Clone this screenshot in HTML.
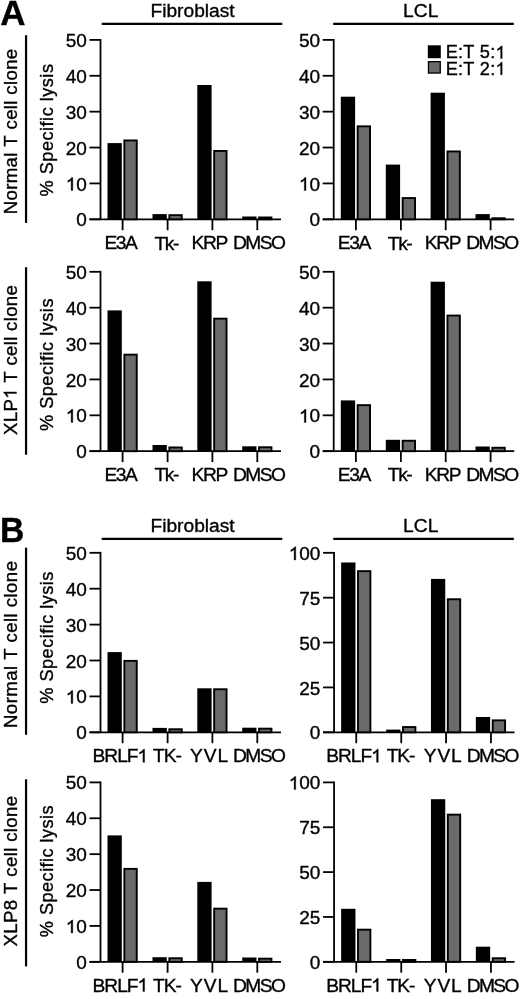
<!DOCTYPE html>
<html><head><meta charset="utf-8"><style>
html,body{margin:0;padding:0;background:#fff;}
svg{display:block;filter:grayscale(1);}
text{font-family:"Liberation Sans",sans-serif;font-kerning:none;fill:#000;stroke:#000;stroke-width:0.35px;}
line{stroke:#000;}
path.one{fill:#000;stroke:#000;stroke-width:37.7px;}
</style></head><body>
<svg width="520" height="999" viewBox="0 0 520 999">
<line x1="100.50" y1="39.00" x2="100.50" y2="219.30" stroke-width="1.8"/>
<line x1="89.50" y1="219.30" x2="100.50" y2="219.30" stroke-width="1.8"/>
<text x="76.28" y="226.39" style="font-size:19.0px;">0</text>
<line x1="89.50" y1="183.42" x2="100.50" y2="183.42" stroke-width="1.8"/>
<text x="65.71" y="190.51" style="font-size:19.0px;"> 0</text><path class="one" transform="translate(65.71,190.51) scale(0.00928,-0.00928)" d="M763 0L583 0L583 1100Q520 1040 420 982Q320 925 223 893L223 1067Q370 1125 480 1222Q590 1320 640 1409L763 1409Z"/>
<line x1="89.50" y1="147.54" x2="100.50" y2="147.54" stroke-width="1.8"/>
<text x="65.71" y="154.63" style="font-size:19.0px;">20</text>
<line x1="89.50" y1="111.66" x2="100.50" y2="111.66" stroke-width="1.8"/>
<text x="65.71" y="118.75" style="font-size:19.0px;">30</text>
<line x1="89.50" y1="75.78" x2="100.50" y2="75.78" stroke-width="1.8"/>
<text x="65.71" y="82.87" style="font-size:19.0px;">40</text>
<line x1="89.50" y1="39.90" x2="100.50" y2="39.90" stroke-width="1.8"/>
<text x="65.71" y="46.99" style="font-size:19.0px;">50</text>
<line x1="89.50" y1="219.30" x2="281.00" y2="219.30" stroke-width="1.8"/>
<line x1="122.60" y1="219.30" x2="122.60" y2="230.20" stroke-width="1.8"/>
<rect x="107.50" y="143.10" width="14.30" height="76.20" fill="#000"/>
<rect x="124.35" y="140.45" width="12.40" height="78.85" fill="#6a6a6a" stroke="#000" stroke-width="1.9"/>
<line x1="167.60" y1="219.30" x2="167.60" y2="230.20" stroke-width="1.8"/>
<rect x="152.50" y="214.10" width="14.30" height="5.20" fill="#000"/>
<rect x="169.35" y="215.15" width="12.40" height="4.15" fill="#6a6a6a" stroke="#000" stroke-width="1.9"/>
<line x1="212.40" y1="219.30" x2="212.40" y2="230.20" stroke-width="1.8"/>
<rect x="197.30" y="85.00" width="14.30" height="134.30" fill="#000"/>
<rect x="214.15" y="150.95" width="12.40" height="68.35" fill="#6a6a6a" stroke="#000" stroke-width="1.9"/>
<line x1="257.30" y1="219.30" x2="257.30" y2="230.20" stroke-width="1.8"/>
<rect x="242.20" y="216.50" width="14.30" height="2.80" fill="#000"/>
<rect x="259.05" y="217.45" width="12.40" height="1.85" fill="#6a6a6a" stroke="#000" stroke-width="1.9"/>
<text x="104.53" y="249.26" style="font-size:19.2px;letter-spacing:-1.439px;">E3A</text>
<text x="154.57" y="249.61" style="font-size:19.2px;letter-spacing:-1.419px;">Tk-</text>
<text x="191.38" y="249.25" style="font-size:19.2px;letter-spacing:-1.295px;">KRP</text>
<text x="233.03" y="249.26" style="font-size:19.2px;letter-spacing:-1.569px;">DMSO</text>
<line x1="333.70" y1="39.00" x2="333.70" y2="219.30" stroke-width="1.8"/>
<line x1="322.70" y1="219.30" x2="333.70" y2="219.30" stroke-width="1.8"/>
<text x="309.48" y="226.39" style="font-size:19.0px;">0</text>
<line x1="322.70" y1="183.42" x2="333.70" y2="183.42" stroke-width="1.8"/>
<text x="298.91" y="190.51" style="font-size:19.0px;"> 0</text><path class="one" transform="translate(298.91,190.51) scale(0.00928,-0.00928)" d="M763 0L583 0L583 1100Q520 1040 420 982Q320 925 223 893L223 1067Q370 1125 480 1222Q590 1320 640 1409L763 1409Z"/>
<line x1="322.70" y1="147.54" x2="333.70" y2="147.54" stroke-width="1.8"/>
<text x="298.91" y="154.63" style="font-size:19.0px;">20</text>
<line x1="322.70" y1="111.66" x2="333.70" y2="111.66" stroke-width="1.8"/>
<text x="298.91" y="118.75" style="font-size:19.0px;">30</text>
<line x1="322.70" y1="75.78" x2="333.70" y2="75.78" stroke-width="1.8"/>
<text x="298.91" y="82.87" style="font-size:19.0px;">40</text>
<line x1="322.70" y1="39.90" x2="333.70" y2="39.90" stroke-width="1.8"/>
<text x="298.91" y="46.99" style="font-size:19.0px;">50</text>
<line x1="322.70" y1="219.30" x2="514.20" y2="219.30" stroke-width="1.8"/>
<line x1="355.90" y1="219.30" x2="355.90" y2="230.20" stroke-width="1.8"/>
<rect x="340.80" y="96.70" width="14.30" height="122.60" fill="#000"/>
<rect x="357.65" y="126.35" width="12.40" height="92.95" fill="#6a6a6a" stroke="#000" stroke-width="1.9"/>
<line x1="400.90" y1="219.30" x2="400.90" y2="230.20" stroke-width="1.8"/>
<rect x="385.80" y="164.60" width="14.30" height="54.70" fill="#000"/>
<rect x="402.65" y="198.05" width="12.40" height="21.25" fill="#6a6a6a" stroke="#000" stroke-width="1.9"/>
<line x1="445.70" y1="219.30" x2="445.70" y2="230.20" stroke-width="1.8"/>
<rect x="430.60" y="92.70" width="14.30" height="126.60" fill="#000"/>
<rect x="447.45" y="151.45" width="12.40" height="67.85" fill="#6a6a6a" stroke="#000" stroke-width="1.9"/>
<line x1="490.60" y1="219.30" x2="490.60" y2="230.20" stroke-width="1.8"/>
<rect x="475.50" y="214.10" width="14.30" height="5.20" fill="#000"/>
<rect x="492.35" y="218.25" width="12.40" height="1.05" fill="#6a6a6a" stroke="#000" stroke-width="1.9"/>
<text x="337.82" y="249.26" style="font-size:19.2px;letter-spacing:-1.439px;">E3A</text>
<text x="387.87" y="249.61" style="font-size:19.2px;letter-spacing:-1.419px;">Tk-</text>
<text x="424.67" y="249.25" style="font-size:19.2px;letter-spacing:-1.295px;">KRP</text>
<text x="466.33" y="249.26" style="font-size:19.2px;letter-spacing:-1.569px;">DMSO</text>
<line x1="100.50" y1="270.90" x2="100.50" y2="451.20" stroke-width="1.8"/>
<line x1="89.50" y1="451.20" x2="100.50" y2="451.20" stroke-width="1.8"/>
<text x="76.28" y="458.29" style="font-size:19.0px;">0</text>
<line x1="89.50" y1="415.32" x2="100.50" y2="415.32" stroke-width="1.8"/>
<text x="65.71" y="422.41" style="font-size:19.0px;"> 0</text><path class="one" transform="translate(65.71,422.41) scale(0.00928,-0.00928)" d="M763 0L583 0L583 1100Q520 1040 420 982Q320 925 223 893L223 1067Q370 1125 480 1222Q590 1320 640 1409L763 1409Z"/>
<line x1="89.50" y1="379.44" x2="100.50" y2="379.44" stroke-width="1.8"/>
<text x="65.71" y="386.53" style="font-size:19.0px;">20</text>
<line x1="89.50" y1="343.56" x2="100.50" y2="343.56" stroke-width="1.8"/>
<text x="65.71" y="350.65" style="font-size:19.0px;">30</text>
<line x1="89.50" y1="307.68" x2="100.50" y2="307.68" stroke-width="1.8"/>
<text x="65.71" y="314.77" style="font-size:19.0px;">40</text>
<line x1="89.50" y1="271.80" x2="100.50" y2="271.80" stroke-width="1.8"/>
<text x="65.71" y="278.89" style="font-size:19.0px;">50</text>
<line x1="89.50" y1="451.20" x2="281.00" y2="451.20" stroke-width="1.8"/>
<line x1="122.60" y1="451.20" x2="122.60" y2="462.10" stroke-width="1.8"/>
<rect x="107.50" y="310.40" width="14.30" height="140.80" fill="#000"/>
<rect x="124.35" y="354.65" width="12.40" height="96.55" fill="#6a6a6a" stroke="#000" stroke-width="1.9"/>
<line x1="167.60" y1="451.20" x2="167.60" y2="462.10" stroke-width="1.8"/>
<rect x="152.50" y="445.00" width="14.30" height="6.20" fill="#000"/>
<rect x="169.35" y="447.45" width="12.40" height="3.75" fill="#6a6a6a" stroke="#000" stroke-width="1.9"/>
<line x1="212.40" y1="451.20" x2="212.40" y2="462.10" stroke-width="1.8"/>
<rect x="197.30" y="281.30" width="14.30" height="169.90" fill="#000"/>
<rect x="214.15" y="318.65" width="12.40" height="132.55" fill="#6a6a6a" stroke="#000" stroke-width="1.9"/>
<line x1="257.30" y1="451.20" x2="257.30" y2="462.10" stroke-width="1.8"/>
<rect x="242.20" y="446.30" width="14.30" height="4.90" fill="#000"/>
<rect x="259.05" y="447.25" width="12.40" height="3.95" fill="#6a6a6a" stroke="#000" stroke-width="1.9"/>
<text x="104.53" y="481.06" style="font-size:19.2px;letter-spacing:-1.439px;">E3A</text>
<text x="154.57" y="481.41" style="font-size:19.2px;letter-spacing:-1.419px;">Tk-</text>
<text x="191.38" y="481.05" style="font-size:19.2px;letter-spacing:-1.295px;">KRP</text>
<text x="233.03" y="481.06" style="font-size:19.2px;letter-spacing:-1.569px;">DMSO</text>
<line x1="333.70" y1="270.90" x2="333.70" y2="451.20" stroke-width="1.8"/>
<line x1="322.70" y1="451.20" x2="333.70" y2="451.20" stroke-width="1.8"/>
<text x="309.48" y="458.29" style="font-size:19.0px;">0</text>
<line x1="322.70" y1="415.32" x2="333.70" y2="415.32" stroke-width="1.8"/>
<text x="298.91" y="422.41" style="font-size:19.0px;"> 0</text><path class="one" transform="translate(298.91,422.41) scale(0.00928,-0.00928)" d="M763 0L583 0L583 1100Q520 1040 420 982Q320 925 223 893L223 1067Q370 1125 480 1222Q590 1320 640 1409L763 1409Z"/>
<line x1="322.70" y1="379.44" x2="333.70" y2="379.44" stroke-width="1.8"/>
<text x="298.91" y="386.53" style="font-size:19.0px;">20</text>
<line x1="322.70" y1="343.56" x2="333.70" y2="343.56" stroke-width="1.8"/>
<text x="298.91" y="350.65" style="font-size:19.0px;">30</text>
<line x1="322.70" y1="307.68" x2="333.70" y2="307.68" stroke-width="1.8"/>
<text x="298.91" y="314.77" style="font-size:19.0px;">40</text>
<line x1="322.70" y1="271.80" x2="333.70" y2="271.80" stroke-width="1.8"/>
<text x="298.91" y="278.89" style="font-size:19.0px;">50</text>
<line x1="322.70" y1="451.20" x2="514.20" y2="451.20" stroke-width="1.8"/>
<line x1="355.90" y1="451.20" x2="355.90" y2="462.10" stroke-width="1.8"/>
<rect x="340.80" y="400.40" width="14.30" height="50.80" fill="#000"/>
<rect x="357.65" y="405.15" width="12.40" height="46.05" fill="#6a6a6a" stroke="#000" stroke-width="1.9"/>
<line x1="400.90" y1="451.20" x2="400.90" y2="462.10" stroke-width="1.8"/>
<rect x="385.80" y="439.80" width="14.30" height="11.40" fill="#000"/>
<rect x="402.65" y="440.75" width="12.40" height="10.45" fill="#6a6a6a" stroke="#000" stroke-width="1.9"/>
<line x1="445.70" y1="451.20" x2="445.70" y2="462.10" stroke-width="1.8"/>
<rect x="430.60" y="281.70" width="14.30" height="169.50" fill="#000"/>
<rect x="447.45" y="315.55" width="12.40" height="135.65" fill="#6a6a6a" stroke="#000" stroke-width="1.9"/>
<line x1="490.60" y1="451.20" x2="490.60" y2="462.10" stroke-width="1.8"/>
<rect x="475.50" y="446.50" width="14.30" height="4.70" fill="#000"/>
<rect x="492.35" y="447.75" width="12.40" height="3.45" fill="#6a6a6a" stroke="#000" stroke-width="1.9"/>
<text x="337.82" y="481.06" style="font-size:19.2px;letter-spacing:-1.439px;">E3A</text>
<text x="387.87" y="481.41" style="font-size:19.2px;letter-spacing:-1.419px;">Tk-</text>
<text x="424.67" y="481.05" style="font-size:19.2px;letter-spacing:-1.295px;">KRP</text>
<text x="466.33" y="481.06" style="font-size:19.2px;letter-spacing:-1.569px;">DMSO</text>
<line x1="100.50" y1="551.90" x2="100.50" y2="732.30" stroke-width="1.8"/>
<line x1="89.50" y1="732.30" x2="100.50" y2="732.30" stroke-width="1.8"/>
<text x="76.28" y="739.39" style="font-size:19.0px;">0</text>
<line x1="89.50" y1="696.40" x2="100.50" y2="696.40" stroke-width="1.8"/>
<text x="65.71" y="703.49" style="font-size:19.0px;"> 0</text><path class="one" transform="translate(65.71,703.49) scale(0.00928,-0.00928)" d="M763 0L583 0L583 1100Q520 1040 420 982Q320 925 223 893L223 1067Q370 1125 480 1222Q590 1320 640 1409L763 1409Z"/>
<line x1="89.50" y1="660.50" x2="100.50" y2="660.50" stroke-width="1.8"/>
<text x="65.71" y="667.59" style="font-size:19.0px;">20</text>
<line x1="89.50" y1="624.60" x2="100.50" y2="624.60" stroke-width="1.8"/>
<text x="65.71" y="631.69" style="font-size:19.0px;">30</text>
<line x1="89.50" y1="588.70" x2="100.50" y2="588.70" stroke-width="1.8"/>
<text x="65.71" y="595.79" style="font-size:19.0px;">40</text>
<line x1="89.50" y1="552.80" x2="100.50" y2="552.80" stroke-width="1.8"/>
<text x="65.71" y="559.89" style="font-size:19.0px;">50</text>
<line x1="89.50" y1="732.30" x2="281.00" y2="732.30" stroke-width="1.8"/>
<line x1="122.60" y1="732.30" x2="122.60" y2="743.20" stroke-width="1.8"/>
<rect x="107.50" y="652.10" width="14.30" height="80.20" fill="#000"/>
<rect x="124.35" y="660.85" width="12.40" height="71.45" fill="#6a6a6a" stroke="#000" stroke-width="1.9"/>
<line x1="167.60" y1="732.30" x2="167.60" y2="743.20" stroke-width="1.8"/>
<rect x="152.50" y="727.90" width="14.30" height="4.40" fill="#000"/>
<rect x="169.35" y="729.25" width="12.40" height="3.05" fill="#6a6a6a" stroke="#000" stroke-width="1.9"/>
<line x1="212.40" y1="732.30" x2="212.40" y2="743.20" stroke-width="1.8"/>
<rect x="197.30" y="688.30" width="14.30" height="44.00" fill="#000"/>
<rect x="214.15" y="689.25" width="12.40" height="43.05" fill="#6a6a6a" stroke="#000" stroke-width="1.9"/>
<line x1="257.30" y1="732.30" x2="257.30" y2="743.20" stroke-width="1.8"/>
<rect x="242.20" y="727.70" width="14.30" height="4.60" fill="#000"/>
<rect x="259.05" y="728.65" width="12.40" height="3.65" fill="#6a6a6a" stroke="#000" stroke-width="1.9"/>
<text x="92.62" y="762.35" style="font-size:19.2px;letter-spacing:-1.064px;">BRLF </text><path class="one" transform="translate(137.45,762.35) scale(0.00937,-0.00937)" d="M763 0L583 0L583 1100Q520 1040 420 982Q320 925 223 893L223 1067Q370 1125 480 1222Q590 1320 640 1409L763 1409Z"/>
<text x="153.12" y="762.35" style="font-size:19.2px;letter-spacing:-1.122px;">TK-</text>
<text x="190.08" y="762.35" style="font-size:19.2px;letter-spacing:0.884px;">YVL</text>
<text x="233.03" y="762.36" style="font-size:19.2px;letter-spacing:-1.569px;">DMSO</text>
<line x1="334.05" y1="551.90" x2="334.05" y2="732.30" stroke-width="1.8"/>
<line x1="323.05" y1="732.30" x2="334.05" y2="732.30" stroke-width="1.8"/>
<text x="309.83" y="739.39" style="font-size:19.0px;">0</text>
<line x1="323.05" y1="687.42" x2="334.05" y2="687.42" stroke-width="1.8"/>
<text x="299.31" y="694.52" style="font-size:19.0px;">25</text>
<line x1="323.05" y1="642.55" x2="334.05" y2="642.55" stroke-width="1.8"/>
<text x="299.26" y="649.64" style="font-size:19.0px;">50</text>
<line x1="323.05" y1="597.67" x2="334.05" y2="597.67" stroke-width="1.8"/>
<text x="299.31" y="604.67" style="font-size:19.0px;">75</text>
<line x1="323.05" y1="552.80" x2="334.05" y2="552.80" stroke-width="1.8"/>
<text x="288.69" y="559.89" style="font-size:19.0px;"> 00</text><path class="one" transform="translate(288.69,559.89) scale(0.00928,-0.00928)" d="M763 0L583 0L583 1100Q520 1040 420 982Q320 925 223 893L223 1067Q370 1125 480 1222Q590 1320 640 1409L763 1409Z"/>
<line x1="323.05" y1="732.30" x2="514.55" y2="732.30" stroke-width="1.8"/>
<line x1="356.25" y1="732.30" x2="356.25" y2="743.20" stroke-width="1.8"/>
<rect x="341.15" y="562.50" width="14.30" height="169.80" fill="#000"/>
<rect x="358.00" y="571.15" width="12.40" height="161.15" fill="#6a6a6a" stroke="#000" stroke-width="1.9"/>
<line x1="401.25" y1="732.30" x2="401.25" y2="743.20" stroke-width="1.8"/>
<rect x="386.15" y="729.60" width="14.30" height="2.70" fill="#000"/>
<rect x="403.00" y="727.05" width="12.40" height="5.25" fill="#6a6a6a" stroke="#000" stroke-width="1.9"/>
<line x1="446.05" y1="732.30" x2="446.05" y2="743.20" stroke-width="1.8"/>
<rect x="430.95" y="578.90" width="14.30" height="153.40" fill="#000"/>
<rect x="447.80" y="599.25" width="12.40" height="133.05" fill="#6a6a6a" stroke="#000" stroke-width="1.9"/>
<line x1="490.95" y1="732.30" x2="490.95" y2="743.20" stroke-width="1.8"/>
<rect x="475.85" y="717.00" width="14.30" height="15.30" fill="#000"/>
<rect x="492.70" y="720.35" width="12.40" height="11.95" fill="#6a6a6a" stroke="#000" stroke-width="1.9"/>
<text x="326.28" y="762.35" style="font-size:19.2px;letter-spacing:-1.064px;">BRLF </text><path class="one" transform="translate(371.10,762.35) scale(0.00937,-0.00937)" d="M763 0L583 0L583 1100Q520 1040 420 982Q320 925 223 893L223 1067Q370 1125 480 1222Q590 1320 640 1409L763 1409Z"/>
<text x="386.77" y="762.35" style="font-size:19.2px;letter-spacing:-1.122px;">TK-</text>
<text x="423.73" y="762.35" style="font-size:19.2px;letter-spacing:0.884px;">YVL</text>
<text x="466.68" y="762.36" style="font-size:19.2px;letter-spacing:-1.569px;">DMSO</text>
<line x1="100.50" y1="781.50" x2="100.50" y2="961.80" stroke-width="1.8"/>
<line x1="89.50" y1="961.80" x2="100.50" y2="961.80" stroke-width="1.8"/>
<text x="76.28" y="968.89" style="font-size:19.0px;">0</text>
<line x1="89.50" y1="925.92" x2="100.50" y2="925.92" stroke-width="1.8"/>
<text x="65.71" y="933.01" style="font-size:19.0px;"> 0</text><path class="one" transform="translate(65.71,933.01) scale(0.00928,-0.00928)" d="M763 0L583 0L583 1100Q520 1040 420 982Q320 925 223 893L223 1067Q370 1125 480 1222Q590 1320 640 1409L763 1409Z"/>
<line x1="89.50" y1="890.04" x2="100.50" y2="890.04" stroke-width="1.8"/>
<text x="65.71" y="897.13" style="font-size:19.0px;">20</text>
<line x1="89.50" y1="854.16" x2="100.50" y2="854.16" stroke-width="1.8"/>
<text x="65.71" y="861.25" style="font-size:19.0px;">30</text>
<line x1="89.50" y1="818.28" x2="100.50" y2="818.28" stroke-width="1.8"/>
<text x="65.71" y="825.37" style="font-size:19.0px;">40</text>
<line x1="89.50" y1="782.40" x2="100.50" y2="782.40" stroke-width="1.8"/>
<text x="65.71" y="789.49" style="font-size:19.0px;">50</text>
<line x1="89.50" y1="961.80" x2="281.00" y2="961.80" stroke-width="1.8"/>
<line x1="122.60" y1="961.80" x2="122.60" y2="972.70" stroke-width="1.8"/>
<rect x="107.50" y="835.40" width="14.30" height="126.40" fill="#000"/>
<rect x="124.35" y="868.85" width="12.40" height="92.95" fill="#6a6a6a" stroke="#000" stroke-width="1.9"/>
<line x1="167.60" y1="961.80" x2="167.60" y2="972.70" stroke-width="1.8"/>
<rect x="152.50" y="957.20" width="14.30" height="4.60" fill="#000"/>
<rect x="169.35" y="958.25" width="12.40" height="3.55" fill="#6a6a6a" stroke="#000" stroke-width="1.9"/>
<line x1="212.40" y1="961.80" x2="212.40" y2="972.70" stroke-width="1.8"/>
<rect x="197.30" y="881.90" width="14.30" height="79.90" fill="#000"/>
<rect x="214.15" y="908.65" width="12.40" height="53.15" fill="#6a6a6a" stroke="#000" stroke-width="1.9"/>
<line x1="257.30" y1="961.80" x2="257.30" y2="972.70" stroke-width="1.8"/>
<rect x="242.20" y="957.50" width="14.30" height="4.30" fill="#000"/>
<rect x="259.05" y="958.65" width="12.40" height="3.15" fill="#6a6a6a" stroke="#000" stroke-width="1.9"/>
<text x="92.62" y="991.55" style="font-size:19.2px;letter-spacing:-1.064px;">BRLF </text><path class="one" transform="translate(137.45,991.55) scale(0.00937,-0.00937)" d="M763 0L583 0L583 1100Q520 1040 420 982Q320 925 223 893L223 1067Q370 1125 480 1222Q590 1320 640 1409L763 1409Z"/>
<text x="153.12" y="991.55" style="font-size:19.2px;letter-spacing:-1.122px;">TK-</text>
<text x="190.08" y="991.55" style="font-size:19.2px;letter-spacing:0.884px;">YVL</text>
<text x="233.03" y="991.56" style="font-size:19.2px;letter-spacing:-1.569px;">DMSO</text>
<line x1="334.05" y1="781.50" x2="334.05" y2="961.80" stroke-width="1.8"/>
<line x1="323.05" y1="961.80" x2="334.05" y2="961.80" stroke-width="1.8"/>
<text x="309.83" y="968.89" style="font-size:19.0px;">0</text>
<line x1="323.05" y1="916.95" x2="334.05" y2="916.95" stroke-width="1.8"/>
<text x="299.31" y="924.04" style="font-size:19.0px;">25</text>
<line x1="323.05" y1="872.10" x2="334.05" y2="872.10" stroke-width="1.8"/>
<text x="299.26" y="879.19" style="font-size:19.0px;">50</text>
<line x1="323.05" y1="827.25" x2="334.05" y2="827.25" stroke-width="1.8"/>
<text x="299.31" y="834.24" style="font-size:19.0px;">75</text>
<line x1="323.05" y1="782.40" x2="334.05" y2="782.40" stroke-width="1.8"/>
<text x="288.69" y="789.49" style="font-size:19.0px;"> 00</text><path class="one" transform="translate(288.69,789.49) scale(0.00928,-0.00928)" d="M763 0L583 0L583 1100Q520 1040 420 982Q320 925 223 893L223 1067Q370 1125 480 1222Q590 1320 640 1409L763 1409Z"/>
<line x1="323.05" y1="961.80" x2="514.55" y2="961.80" stroke-width="1.8"/>
<line x1="356.25" y1="961.80" x2="356.25" y2="972.70" stroke-width="1.8"/>
<rect x="341.15" y="908.80" width="14.30" height="53.00" fill="#000"/>
<rect x="358.00" y="929.65" width="12.40" height="32.15" fill="#6a6a6a" stroke="#000" stroke-width="1.9"/>
<line x1="401.25" y1="961.80" x2="401.25" y2="972.70" stroke-width="1.8"/>
<rect x="386.15" y="959.00" width="14.30" height="2.80" fill="#000"/>
<rect x="403.00" y="959.95" width="12.40" height="1.85" fill="#6a6a6a" stroke="#000" stroke-width="1.9"/>
<line x1="446.05" y1="961.80" x2="446.05" y2="972.70" stroke-width="1.8"/>
<rect x="430.95" y="799.20" width="14.30" height="162.60" fill="#000"/>
<rect x="447.80" y="814.65" width="12.40" height="147.15" fill="#6a6a6a" stroke="#000" stroke-width="1.9"/>
<line x1="490.95" y1="961.80" x2="490.95" y2="972.70" stroke-width="1.8"/>
<rect x="475.85" y="946.70" width="14.30" height="15.10" fill="#000"/>
<rect x="492.70" y="958.25" width="12.40" height="3.55" fill="#6a6a6a" stroke="#000" stroke-width="1.9"/>
<text x="326.28" y="991.55" style="font-size:19.2px;letter-spacing:-1.064px;">BRLF </text><path class="one" transform="translate(371.10,991.55) scale(0.00937,-0.00937)" d="M763 0L583 0L583 1100Q520 1040 420 982Q320 925 223 893L223 1067Q370 1125 480 1222Q590 1320 640 1409L763 1409Z"/>
<text x="386.77" y="991.55" style="font-size:19.2px;letter-spacing:-1.122px;">TK-</text>
<text x="423.73" y="991.55" style="font-size:19.2px;letter-spacing:0.884px;">YVL</text>
<text x="466.68" y="991.56" style="font-size:19.2px;letter-spacing:-1.569px;">DMSO</text>
<line x1="101.70" y1="23.80" x2="282.30" y2="23.80" stroke-width="2.3"/>
<line x1="333.20" y1="23.80" x2="513.80" y2="23.80" stroke-width="2.3"/>
<text x="150.43" y="16.70" style="font-size:19.2px;">Fibroblast</text>
<text x="403.12" y="16.70" style="font-size:19.2px;">LCL</text>
<line x1="101.70" y1="538.80" x2="282.30" y2="538.80" stroke-width="2.3"/>
<line x1="333.20" y1="538.80" x2="513.80" y2="538.80" stroke-width="2.3"/>
<text x="150.43" y="531.90" style="font-size:19.2px;">Fibroblast</text>
<text x="403.12" y="531.90" style="font-size:19.2px;">LCL</text>
<text x="0.33" y="25.10" style="font-size:35px;font-weight:bold;">A</text>
<text transform="translate(0.0,542.4) scale(0.95,1)" x="0" y="0" style="font-size:35.5px;font-weight:bold;">B</text>
<line x1="26.05" y1="35.20" x2="26.05" y2="222.90" stroke-width="2.2"/>
<g transform="rotate(-90)"><text x="-214.23" y="16.50" style="font-size:18.6px;letter-spacing:0.348px;">Normal T cell clone</text></g>
<g transform="rotate(-90)"><text x="-196.45" y="53.30" style="font-size:18.2px;letter-spacing:0.473px;">% Specific lysis</text></g>
<line x1="26.05" y1="267.20" x2="26.05" y2="454.70" stroke-width="2.2"/>
<g transform="rotate(-90)"><text x="-434.92" y="16.50" style="font-size:18.6px;letter-spacing:0.313px;">XLP  T cell clone</text><path class="one" transform="translate(-398.82,16.50) scale(0.00908,-0.00908)" d="M763 0L583 0L583 1100Q520 1040 420 982Q320 925 223 893L223 1067Q370 1125 480 1222Q590 1320 640 1409L763 1409Z"/></g>
<g transform="rotate(-90)"><text x="-431.05" y="53.30" style="font-size:18.2px;letter-spacing:0.480px;">% Specific lysis</text></g>
<line x1="26.05" y1="547.70" x2="26.05" y2="734.80" stroke-width="2.2"/>
<g transform="rotate(-90)"><text x="-728.03" y="16.50" style="font-size:18.6px;letter-spacing:0.437px;">Normal T cell clone</text></g>
<g transform="rotate(-90)"><text x="-703.65" y="53.30" style="font-size:18.2px;letter-spacing:0.446px;">% Specific lysis</text></g>
<line x1="26.05" y1="779.30" x2="26.05" y2="966.40" stroke-width="2.2"/>
<g transform="rotate(-90)"><text x="-946.42" y="16.50" style="font-size:18.6px;letter-spacing:0.363px;">XLP8 T cell clone</text></g>
<g transform="rotate(-90)"><text x="-937.15" y="53.30" style="font-size:18.2px;letter-spacing:0.433px;">% Specific lysis</text></g>
<rect x="427.8" y="45.3" width="13.0" height="12.9" fill="#000"/>
<rect x="428.45" y="61.65" width="11.8" height="11.4" fill="#6a6a6a" stroke="#000" stroke-width="1.3"/>
<text x="445.71" y="58.47" style="font-size:18.2px;letter-spacing:0.194px;">E:T 5: </text><path class="one" transform="translate(495.42,58.47) scale(0.00889,-0.00889)" d="M763 0L583 0L583 1100Q520 1040 420 982Q320 925 223 893L223 1067Q370 1125 480 1222Q590 1320 640 1409L763 1409Z"/>
<text x="445.71" y="74.75" style="font-size:18.2px;letter-spacing:0.194px;">E:T 2: </text><path class="one" transform="translate(495.42,74.75) scale(0.00889,-0.00889)" d="M763 0L583 0L583 1100Q520 1040 420 982Q320 925 223 893L223 1067Q370 1125 480 1222Q590 1320 640 1409L763 1409Z"/>
</svg>
</body></html>
